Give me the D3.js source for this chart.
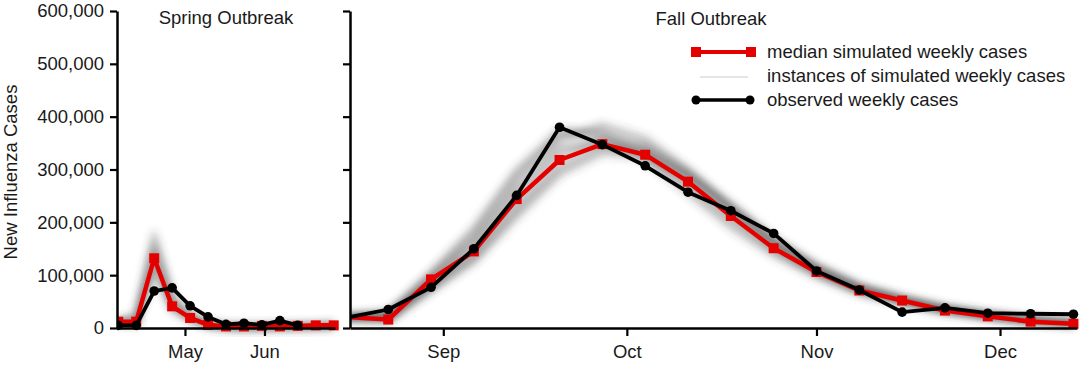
<!DOCTYPE html>
<html>
<head>
<meta charset="utf-8">
<script src="https://cdn.jsdelivr.net/npm/d3@7"></script>
<style>
	body { margin: 0; background: #fff; }
	text { font-family: "Liberation Sans", Arial, sans-serif; fill: #1a1a1a; }
</style>
</head>
<body>
<svg id="chart" width="1080" height="365"></svg>
<script>
	'use strict';

	// weekly dates (2009)
	var springWeeks = ["2009-04-05", "2009-04-12", "2009-04-19", "2009-04-26", "2009-05-03", "2009-05-10",
		"2009-05-17", "2009-05-24", "2009-05-31", "2009-06-07", "2009-06-14", "2009-06-21", "2009-06-28"];
	var fallWeeks = ["2009-08-16", "2009-08-23", "2009-08-30", "2009-09-06", "2009-09-13", "2009-09-20",
		"2009-09-27", "2009-10-04", "2009-10-11", "2009-10-18", "2009-10-25", "2009-11-01", "2009-11-08",
		"2009-11-15", "2009-11-22", "2009-11-29", "2009-12-06", "2009-12-13"];

	// spring outbreak
	var springMedian = [12000, 12000, 132000, 41000, 19000, 6000, 3000, 3000, 4000, 3000, 4000, 5000, 5000];
	var springObserved = [5000, 5000, 70000, 76000, 42000, 21000, 7000, 9000, 6000, 14000, 5000];
	var springSim1 = [10000, 15000, 178000, 60000, 25000, 8000, 3000, 2000, 2000, 3000, 3000, 4000, 4000];
	var springSim2 = [12000, 10000, 150000, 50000, 22000, 7000, 3000, 2000, 2000, 3000, 4000, 4000, 5000];
	var springSim3 = [11000, 20000, 118000, 35000, 16000, 5000, 2000, 1000, 2000, 2000, 3000, 4000, 5000];
	var springSim4 = [13000, 8000, 140000, 45000, 20000, 6000, 2000, 1000, 1000, 2000, 3000, 3000, 4000];
	var springSim5 = [12000, 25000, 165000, 56000, 24000, 8000, 3000, 2000, 2000, 3000, 3000, 4000, 5000];
	var springSim6 = [11000, 12000, 108000, 38000, 18000, 6000, 2000, 1000, 1000, 2000, 3000, 4000, 4000];

	// fall outbreak
	var fallMedian = [21000, 16000, 92000, 145000, 244000, 318000, 348000, 328000, 277000, 212000, 151000,
		106000, 71000, 52000, 33000, 22000, 12000, 8000];
	var fallObserved = [19000, 35000, 77000, 150000, 251000, 380000, 347000, 307000, 257000, 222000, 179000,
		108000, 72000, 30000, 38000, 28000, 27000, 26000];
	var fallSim1 = [20000, 30000, 85000, 165000, 270000, 355000, 385000, 360000, 300000, 230000, 165000, 115000, 78000, 55000, 38000, 26000, 17000, 11000];
	var fallSim2 = [22000, 25000, 75000, 140000, 235000, 320000, 360000, 345000, 290000, 225000, 160000, 110000, 75000, 52000, 35000, 24000, 15000, 10000];
	var fallSim3 = [19000, 20000, 100000, 175000, 285000, 370000, 370000, 330000, 265000, 200000, 145000, 102000, 70000, 50000, 34000, 22000, 14000, 9000];
	var fallSim4 = [21000, 18000, 88000, 150000, 250000, 335000, 355000, 335000, 285000, 220000, 158000, 108000, 73000, 52000, 34000, 23000, 13000, 8000];
	var fallSim5 = [20000, 15000, 70000, 125000, 210000, 290000, 330000, 325000, 285000, 225000, 165000, 115000, 78000, 56000, 37000, 25000, 15000, 9000];
	var fallSim6 = [23000, 28000, 105000, 190000, 300000, 375000, 365000, 320000, 255000, 190000, 138000, 98000, 66000, 47000, 31000, 21000, 12000, 7000];
	var fallSim7 = [18000, 14000, 80000, 135000, 225000, 305000, 345000, 340000, 295000, 235000, 170000, 118000, 80000, 57000, 38000, 26000, 16000, 10000];
	var fallSim8 = [21000, 22000, 95000, 160000, 260000, 340000, 350000, 318000, 268000, 205000, 148000, 104000, 70000, 50000, 33000, 22000, 13000, 8000];
	var fallSim9 = [20000, 24000, 98000, 182000, 292000, 362000, 378000, 352000, 296000, 228000, 160000, 110000, 74000, 53000, 35000, 23000, 14000, 9000];
	var fallSim10 = [21000, 17000, 76000, 130000, 218000, 298000, 338000, 332000, 288000, 228000, 166000, 116000, 79000, 56000, 37000, 25000, 15000, 9000];

	// axis ticks
	var yTicks = [0, 100000, 200000, 300000, 400000, 500000, 600000];
	var springTicks = ["2009-05-01", "2009-06-01"];
	var fallTicks = ["2009-09-01", "2009-10-01", "2009-11-01", "2009-12-01"];

	var legendLabels = ["median simulated weekly cases", "instances of simulated weekly cases", "observed weekly cases"];

	var RED = "#e50000", FONT = "18.5px";
	var parse = d3.timeParse("%Y-%m-%d");
	var svg = d3.select("#chart");

	var y = d3.scaleLinear().domain([0, 600000]).range([328, 11]);
	var xSpring = d3.scaleTime()
		.domain([new Date(2009, 3, 4, 12), new Date(2009, 5, 28, 12)])
		.range([117, 335]);
	var xFall = d3.scaleTime()
		.domain([new Date(2009, 7, 16, 18), new Date(2009, 11, 13, 14)])
		.range([350, 1077]);

	var defs = svg.append("defs");
	defs.append("clipPath").attr("id", "clipFall")
		.append("rect").attr("x", 350).attr("y", 0).attr("width", 730).attr("height", 365);
	defs.append("clipPath").attr("id", "clipSpring")
		.append("rect").attr("x", 117).attr("y", 0).attr("width", 225).attr("height", 365);
	defs.append("filter").attr("id", "soft").attr("x", "-10%").attr("y", "-10%").attr("width", "120%").attr("height", "120%")
		.append("feGaussianBlur").attr("stdDeviation", 3.8);

	function drawPanel(x, weeks, sims, median, observed, clipId) {
		var dates = weeks.map(parse);
		var line = d3.line()
			.x(function (d, i) { return x(dates[i]); })
			.y(function (d) { return y(d); });
		var g = svg.append("g").attr("clip-path", "url(#" + clipId + ")");

		// simulated instances (soft grey cloud)
		g.append("g").attr("filter", "url(#soft)")
			.selectAll("path").data(sims).enter().append("path")
			.attr("d", line)
			.attr("fill", "none")
			.attr("stroke", "#3a3a3a")
			.attr("stroke-opacity", 0.17)
			.attr("stroke-width", 8)
			.attr("stroke-linejoin", "round");

		// median simulated
		g.append("path").attr("d", line(median))
			.attr("fill", "none").attr("stroke", RED).attr("stroke-width", 4.5).attr("stroke-linejoin", "round");
		g.selectAll("rect.med").data(median).enter().append("rect")
			.attr("class", "med")
			.attr("x", function (d, i) { return x(dates[i]) - 5; })
			.attr("y", function (d) { return y(d) - 5; })
			.attr("width", 10).attr("height", 10)
			.attr("fill", RED);

		// observed
		g.append("path").attr("d", line(observed))
			.attr("fill", "none").attr("stroke", "#000").attr("stroke-width", 3.8).attr("stroke-linejoin", "round");
		g.selectAll("circle.obs").data(observed).enter().append("circle")
			.attr("class", "obs")
			.attr("cx", function (d, i) { return x(dates[i]); })
			.attr("cy", function (d) { return y(d); })
			.attr("r", 4.8)
			.attr("fill", "#000");
	}

	drawPanel(xSpring, springWeeks,
		[springSim1, springSim2, springSim3, springSim4, springSim5, springSim6],
		springMedian, springObserved, "clipSpring");
	drawPanel(xFall, fallWeeks,
		[fallSim1, fallSim2, fallSim3, fallSim4, fallSim5, fallSim6, fallSim7, fallSim8, fallSim9, fallSim10],
		fallMedian, fallObserved, "clipFall");

	function styleAxis(sel) {
		sel.selectAll("path.domain").attr("stroke", "#000").attr("stroke-width", 2.5);
		sel.selectAll(".tick line").attr("stroke", "#000").attr("stroke-width", 2.2);
		sel.selectAll(".tick text").style("font-size", FONT).style("font-family", "'Liberation Sans', Arial, sans-serif").attr("fill", "#1a1a1a");
	}

	// y axes
	svg.append("g").attr("transform", "translate(117,0)")
		.call(d3.axisLeft(y).tickValues(yTicks).tickFormat(d3.format(",")).tickSize(7).tickPadding(6).tickSizeOuter(0))
		.call(styleAxis);
	svg.append("g").attr("transform", "translate(350,0)")
		.call(d3.axisLeft(y).tickValues(yTicks).tickFormat("").tickSize(7).tickSizeOuter(0))
		.call(styleAxis);

	// x axes
	var monthFmt = d3.timeFormat("%b");
	svg.append("g").attr("transform", "translate(0,328)")
		.call(d3.axisBottom(xSpring).tickValues(springTicks.map(parse)).tickFormat(monthFmt).tickSize(8).tickPadding(9).tickSizeOuter(0))
		.call(styleAxis);
	svg.append("g").attr("transform", "translate(0,328)")
		.call(d3.axisBottom(xFall).tickValues(fallTicks.map(parse)).tickFormat(monthFmt).tickSize(8).tickPadding(9).tickSizeOuter(0))
		.call(styleAxis);

	// titles
	svg.append("text").attr("x", 226).attr("y", 24).attr("text-anchor", "middle")
		.style("font-size", FONT).text("Spring Outbreak");
	svg.append("text").attr("x", 711).attr("y", 25).attr("text-anchor", "middle")
		.style("font-size", FONT).text("Fall Outbreak");
	svg.append("text").attr("transform", "translate(17,172) rotate(-90)").attr("text-anchor", "middle")
		.style("font-size", FONT).text("New Influenza Cases");

	// legend
	var lg = svg.append("g");
	lg.append("line").attr("x1", 696).attr("x2", 751).attr("y1", 52).attr("y2", 52)
		.attr("stroke", RED).attr("stroke-width", 4);
	lg.selectAll("rect").data([696, 751]).enter().append("rect")
		.attr("x", function (d) { return d - 5; }).attr("y", 47).attr("width", 10).attr("height", 10).attr("fill", RED);
	lg.append("line").attr("x1", 700).attr("x2", 748).attr("y1", 77).attr("y2", 77)
		.attr("stroke", "#ddd").attr("stroke-width", 1.5);
	lg.append("line").attr("x1", 696).attr("x2", 750).attr("y1", 100).attr("y2", 100)
		.attr("stroke", "#000").attr("stroke-width", 3.5);
	lg.selectAll("circle").data([696, 750]).enter().append("circle")
		.attr("cx", function (d) { return d; }).attr("cy", 100).attr("r", 4.5).attr("fill", "#000");
	lg.selectAll("text").data(legendLabels).enter().append("text")
		.attr("x", 767).attr("y", function (d, i) { return 58 + i * 24; })
		.style("font-size", FONT).text(function (d) { return d; });
</script>
</body>
</html>
